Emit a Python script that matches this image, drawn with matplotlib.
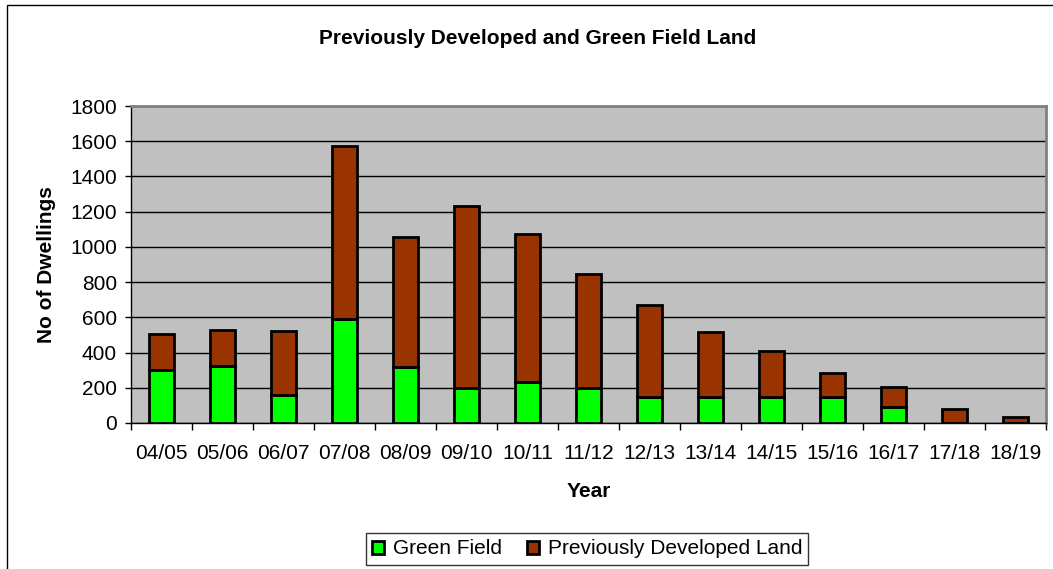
import matplotlib.pyplot as plt
import numpy as np

plt.rcParams['font.family'] = ['Liberation Sans', 'DejaVu Sans']

years = ['04/05', '05/06', '06/07', '07/08', '08/09', '09/10', '10/11', '11/12',
         '12/13', '13/14', '14/15', '15/16', '16/17', '17/18', '18/19']
green_field = [300, 325, 160, 590, 320, 200, 230, 200, 150, 150, 150, 150, 90, 0, 0]
previously_developed = [205, 205, 365, 985, 735, 1030, 845, 645, 520, 365, 260, 135, 115, 82, 35]

fig = plt.figure(figsize=(10.53, 5.69), dpi=100)
ax = fig.add_axes([131 / 1053, 1 - 423 / 569, 915 / 1053, 317 / 569])

x = np.arange(len(years))
w = 0.41
ax.bar(x, green_field, w, color='#00FF00', edgecolor='black', linewidth=2,
       label='Green Field', zorder=3)
ax.bar(x, previously_developed, w, bottom=green_field, color='#993300',
       edgecolor='black', linewidth=2, label='Previously Developed Land', zorder=3)

ax.set_facecolor('#C0C0C0')
ax.set_xlim(-0.5, len(years) - 0.5)
ax.set_ylim(0, 1800)
ax.set_yticks(range(0, 1801, 200))
ax.yaxis.grid(True, color='black', linewidth=1, zorder=1)
ax.set_axisbelow(True)

ax.set_xticks(x)
ax.set_xticklabels(years, fontsize=15)
ax.set_xticks(np.arange(-0.5, len(years), 1), minor=True)
ax.tick_params(axis='x', which='major', length=0, pad=15)
ax.tick_params(axis='x', which='minor', length=5, width=1, color='black')
ax.tick_params(axis='y', labelsize=15, length=4, width=1, pad=6)

for s in ['top', 'right']:
    ax.spines[s].set_color('#808080')
    ax.spines[s].set_linewidth(2)
for s in ['left', 'bottom']:
    ax.spines[s].set_color('black')
    ax.spines[s].set_linewidth(1)

ax.set_xlabel('Year', fontsize=15, fontweight='bold', labelpad=14)
ax.set_ylabel('No of Dwellings', fontsize=15, fontweight='bold', labelpad=10)
fig.text(538 / 1053, 1 - 38 / 569, 'Previously Developed and Green Field Land',
         ha='center', va='center', fontsize=15, fontweight='bold')

leg = fig.legend(loc='center', bbox_to_anchor=(587 / 1053, 1 - 549 / 569), ncol=2,
                 fontsize=15, frameon=True, fancybox=False, edgecolor='black',
                 handlelength=0.6, handleheight=0.6, handletextpad=0.4,
                 columnspacing=1.2, borderpad=0.3)
leg.get_frame().set_linewidth(1)

fig.patches.append(plt.Rectangle((7 / 1053, -0.01), 1.1, 1 - 5 / 569 + 0.01,
                                 transform=fig.transFigure, fill=False,
                                 edgecolor='black', linewidth=1))

fig.savefig('out.png', dpi=100)
